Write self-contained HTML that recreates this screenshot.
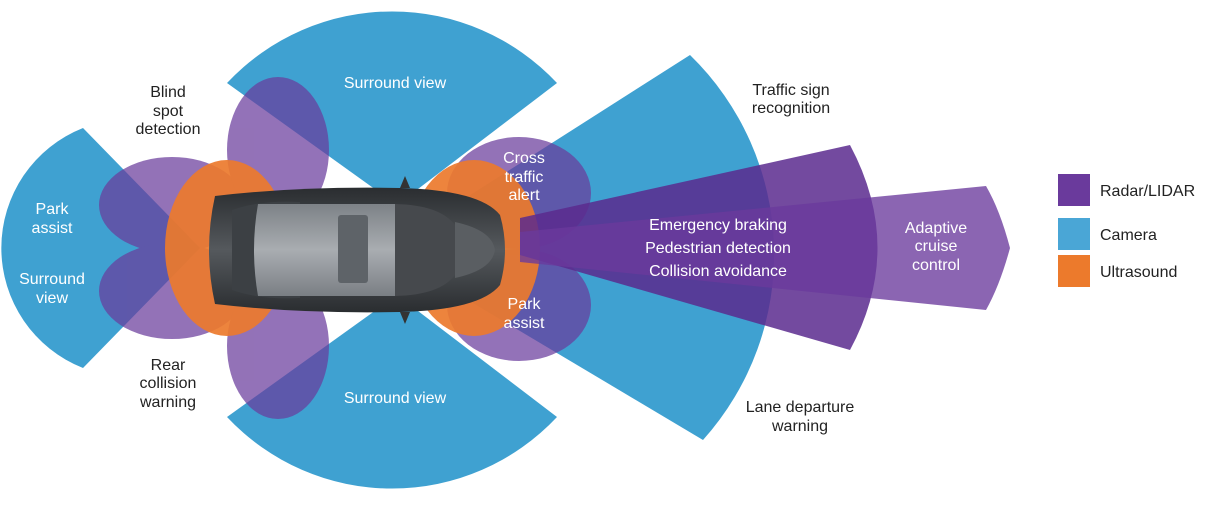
<!DOCTYPE html>
<html><head><meta charset="utf-8"><style>
html,body{margin:0;padding:0;background:#fff;width:1225px;height:515px;overflow:hidden}
svg text{font-family:"Liberation Sans",sans-serif;font-size:16px}
</style></head><body>
<svg width="1225" height="515" viewBox="0 0 1225 515" xmlns="http://www.w3.org/2000/svg">
<defs>
<linearGradient id="body" x1="0" y1="0" x2="0" y2="1">
<stop offset="0" stop-color="#2a2d30"/><stop offset="0.5" stop-color="#55595d"/><stop offset="1" stop-color="#2a2d30"/></linearGradient>
<linearGradient id="roof" x1="0" y1="0" x2="0" y2="1">
<stop offset="0" stop-color="#7d8287"/><stop offset="0.5" stop-color="#a9adb1"/><stop offset="1" stop-color="#7a7f84"/></linearGradient>
</defs>
<!-- camera sectors -->
<g fill="#3fa1d1">
<path d="M227,83 A226,226 0 0 1 557,83 L397,205 Z"/>
<path d="M227,417 A226,226 0 0 0 557,417 L397,295 Z"/>
<path d="M690,55 A278,278 0 0 1 703,440 L384,250 Z"/>
<path d="M83,128 A129,129 0 0 0 83,368 L200,248 Z"/>
</g>
<!-- purple lobes -->
<g fill="#6a3c9c" opacity="0.72">
<ellipse cx="172" cy="205" rx="73" ry="48"/>
<ellipse cx="172" cy="291" rx="73" ry="48"/>
<ellipse cx="278" cy="150" rx="51" ry="73"/>
<ellipse cx="278" cy="346" rx="51" ry="73"/>
<ellipse cx="519" cy="193" rx="72" ry="56"/>
<ellipse cx="519" cy="305" rx="72" ry="56"/>
</g>
<!-- orange -->
<g fill="#ec7a2c" opacity="0.92">
<ellipse cx="227" cy="248" rx="62" ry="88"/>
<ellipse cx="474" cy="248" rx="66" ry="88"/>
</g>
<!-- radar beams -->
<path d="M520,218 L850,145 Q905,248 850,350 L520,255 Z" fill="#5a2a8e" opacity="0.85"/>
<path d="M520,232 L986,186 Q1000,210 1010,248 Q1000,285 986,310 L520,262 Z" fill="#6a3a9c" opacity="0.78"/>
<!-- car -->
<g>
<path d="M215,196 Q300,186 400,188 Q480,190 500,215 Q510,250 500,285 Q480,310 400,312 Q300,314 215,304 Q203,250 215,196 Z" fill="url(#body)"/>
<path d="M232,210 Q260,200 300,202 L300,298 Q260,300 232,290 Z" fill="#3c4044"/>
<path d="M258,204 L395,204 L395,296 L258,296 Q250,250 258,204 Z" fill="url(#roof)"/>
<rect x="338" y="215" width="30" height="68" rx="3" fill="#5e6368"/>
<path d="M395,204 Q440,205 455,225 L455,275 Q440,295 395,296 Z" fill="#46494d"/>
<path d="M455,222 Q492,230 495,250 Q492,270 455,278 Z" fill="#5a5e62"/>
<path d="M400,188 L405,176 L410,188 Z M400,312 L405,324 L410,312 Z" fill="#333"/>
</g>
<!-- labels -->
<g fill="#fff" text-anchor="middle">
<text x="395" y="88">Surround view</text>
<text x="395" y="403">Surround view</text>
<text x="52" y="214">Park</text><text x="52" y="233">assist</text>
<text x="52" y="284">Surround</text><text x="52" y="303">view</text>
<text x="524" y="163">Cross</text><text x="524" y="182">traffic</text><text x="524" y="200">alert</text>
<text x="524" y="309">Park</text><text x="524" y="328">assist</text>
<text x="718" y="230">Emergency braking</text>
<text x="718" y="253">Pedestrian detection</text>
<text x="718" y="276">Collision avoidance</text>
<text x="936" y="233">Adaptive</text><text x="936" y="251">cruise</text><text x="936" y="270">control</text>
</g>
<g fill="#222" text-anchor="middle">
<text x="168" y="97">Blind</text><text x="168" y="116">spot</text><text x="168" y="134">detection</text>
<text x="168" y="370">Rear</text><text x="168" y="388">collision</text><text x="168" y="407">warning</text>
<text x="791" y="95">Traffic sign</text><text x="791" y="113">recognition</text>
<text x="800" y="412">Lane departure</text><text x="800" y="431">warning</text>
</g>
<rect x="1058" y="174" width="32" height="32" fill="#6a3a9c"/>
<rect x="1058" y="218" width="32" height="32" fill="#4aa6d6"/>
<rect x="1058" y="255" width="32" height="32" fill="#ec7a2c"/>
<g fill="#222"><text x="1100" y="196">Radar/LIDAR</text><text x="1100" y="240">Camera</text><text x="1100" y="277">Ultrasound</text></g>
</svg>
</body></html>
